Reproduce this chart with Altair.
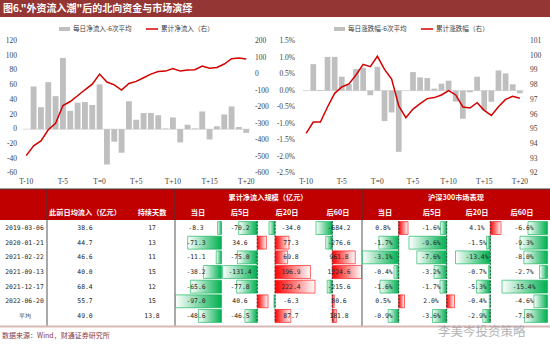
import altair as alt
import pandas as pd

# ---------------- data ----------------
periods = ["T-10", "T-9", "T-8", "T-7", "T-6", "T-5", "T-4", "T-3", "T-2", "T-1", "T=0",
           "T+1", "T+2", "T+3", "T+4", "T+5", "T+6", "T+7", "T+8", "T+9", "T+10",
           "T+11", "T+12", "T+13", "T+14", "T+15", "T+16", "T+17", "T+18", "T+19", "T+20"]
flow_daily = [0, 58, 30, 64, 45, 97, 25, 36, 37, 33, 61,
              -48, -17, -32, 38, 13, 22, 22, 19, 1, 16,
              -18, 6, 1, 24, -14, 4, 20, 31, 3, -5]
flow_cum = [-493, -434, -404, -337, -297, -190, -166, -131, -95, -61, 0,
            -48, -65, -97, -57, -44, -22, 0, 16, 18, 34,
            18, 24, 26, 48, 36, 40, 61, 93, 97, 91]
ret_daily = [0, 0.80, 0.02, 1.02, 1.02, 0.42, 0.20, 0.65, 0.69, -0.14, 0.72,
             -0.92, -0.66, -1.85, 0.0, 0.56, 0.40, 0.38, 0.06, 0.21, 0.30,
             -0.33, -0.85, -0.05, 0.42, -0.60, -0.34, 0.61, 0.52, 0.19, -0.08]
ret_cum = [94.72, 95.49, 95.49, 96.51, 97.44, 97.87, 98.08, 98.69, 99.41, 99.25, 99.96,
           99.07, 98.41, 96.58, 95.78, 96.37, 96.74, 97.08, 97.15, 97.33, 97.62,
           97.33, 96.51, 96.44, 96.80, 96.28, 95.94, 96.53, 97.03, 97.24, 97.10]

x_tick_labels = ["T-10", "T-5", "T=0", "T+5", "T+10", "T+15", "T+20"]
flow_ticks = [120, 100, 80, 60, 40, 20, 0, -20, -40, -60]
flow_cum_ticks = [200, 100, 0, -100, -200, -300, -400, -500, -600]
ret_ticks = [1.5, 1.0, 0.5, 0.0, -0.5, -1.0, -1.5, -2.0, -2.5]
index_ticks = [101, 100, 99, 98, 97, 96, 95, 94, 93, 92]

title_text = '图6."外资流入潮"后的北向资金与市场演绎'
legend_flow = ["每日净流入-6次平均", "累计净流入（右）"]
legend_ret = ["每日涨跌幅-6次平均", "累计涨跌幅（右）"]

dates = ["2019-03-06", "2020-01-21", "2021-02-22", "2021-09-13", "2021-12-17", "2022-06-20", "平均"]
prev_inflow = [38.6, 44.7, 46.6, 40.0, 68.4, 55.7, 49.0]
days = [17, 13, 11, 15, 12, 15, 13.8]
cum_t0 = [-8.3, -71.3, -11.1, -38.2, -65.6, -97.0, -48.6]
cum_t5 = [-70.2, 34.6, -75.0, -131.4, -77.8, 40.6, -46.5]
cum_t20 = [-34.0, 77.3, 69.8, 196.9, 222.4, -6.3, 87.7]
cum_t60 = [-684.2, -276.6, 961.8, 1224.6, -215.6, 80.6, 181.8]
hs_t0 = [0.8, -1.7, -3.1, -0.4, -1.6, 0.5, -0.9]
hs_t5 = [-1.6, -9.6, -7.6, -3.2, -1.7, 2.0, -3.6]
hs_t20 = [4.1, -1.5, -13.4, -0.7, -5.3, -0.4, -2.9]
hs_t60 = [-6.6, -9.3, -8.0, -2.7, -15.4, -4.6, -7.8]

group_headers = ["累计净流入规模（亿元）", "沪深300市场表现"]
sub_headers = ["此前日均流入（亿元）", "持续天数"]
period_headers = ["当日", "后5日", "后20日", "后60日"]
source_text = "数据来源：Wind，财通证券研究所"
watermark = "李美岑投资策略"

# ---------------- style ----------------
CJK = "Noto Sans CJK SC"
SERIF = "Liberation Serif"
MONO = "DejaVu Sans Mono"
RED = "#D40000"
BARGRAY = "#BFBFBF"
HEAD = "#C00000"
TITLEBG = "#943634"
GREEN = "#00B050"
DBRED = "#FF0000"

one = pd.DataFrame({"k": [0]})
layers = []


def box(x1, x2, y1, y2, color):
    return alt.Chart(one).mark_rect(color=color).encode(
        x=alt.value(x1), x2=alt.value(x2), y=alt.value(y1), y2=alt.value(y2))


def hline(x1, x2, y, color, w):
    return alt.Chart(one).mark_rule(color=color, strokeWidth=w).encode(
        x=alt.value(x1), x2=alt.value(x2), y=alt.value(y))


def vline(x, y1, y2, color, w):
    return alt.Chart(one).mark_rule(color=color, strokeWidth=w).encode(
        x=alt.value(x), y=alt.value(y1), y2=alt.value(y2))


def label(x, y, text, size, color, font=CJK, align="center", weight="normal", opacity=1.0):
    return alt.Chart(one).mark_text(
        text=text, fontSize=size, color=color, font=font, align=align,
        baseline="middle", fontWeight=weight, opacity=opacity).encode(
        x=alt.value(x), y=alt.value(y))


# ---------------- title band ----------------
layers.append(box(0, 550, 0, 17, TITLEBG))
layers.append(label(3, 8.8, title_text, 10, "white", align="left", weight="bold"))


# ---------------- two dual-axis panels ----------------
def panel(daily, cum, xr, yl_dom, yr_dom, lticks, lfmt, rticks, rfmt, lx, rx, legend_texts, leg_x0):
    out = []
    df = pd.DataFrame({"p": periods, "i": list(range(len(periods))), "daily": daily, "cum": cum})
    xs = alt.Scale(domain=periods, range=xr, paddingInner=0.2, paddingOuter=0.1)
    ysl = alt.Scale(domain=yl_dom, range=[173.3, 41], nice=False, zero=False)
    ysr = alt.Scale(domain=yr_dom, range=[173.3, 41], nice=False, zero=False)
    X = alt.X("p:N", scale=xs, axis=None)
    # baseline at zero
    out.append(alt.Chart(pd.DataFrame({"z": [0]})).mark_rule(color="#D0D0D0", strokeWidth=0.8).encode(
        y=alt.Y("z:Q", scale=ysl, axis=None), x=alt.value(xr[0]), x2=alt.value(xr[1])))
    out.append(alt.Chart(df).mark_bar(color=BARGRAY).encode(
        x=X, y=alt.Y("daily:Q", scale=ysl, axis=None), y2=alt.datum(0)))
    out.append(alt.Chart(df).mark_line(color=RED, strokeWidth=1.5).encode(
        x=X, y=alt.Y("cum:Q", scale=ysr, axis=None), order="i:Q"))
    dl = pd.DataFrame({"v": lticks, "t": [lfmt(v) for v in lticks]})
    out.append(alt.Chart(dl).mark_text(font=SERIF, fontSize=7.5, color="#404040", align="right",
                                       baseline="middle").encode(
        y=alt.Y("v:Q", scale=ysl, axis=None), x=alt.value(lx), text="t:N"))
    dr = pd.DataFrame({"v": rticks, "t": [rfmt(v) for v in rticks]})
    out.append(alt.Chart(dr).mark_text(font=SERIF, fontSize=7.5, color="#404040", align="left",
                                       baseline="middle").encode(
        y=alt.Y("v:Q", scale=ysr, axis=None), x=alt.value(rx), text="t:N"))
    dx = pd.DataFrame({"p": x_tick_labels})
    out.append(alt.Chart(dx).mark_text(font=SERIF, fontSize=7.5, color="#404040",
                                       baseline="middle").encode(
        x=X, y=alt.value(181.5), text="p:N"))
    # legend
    out.append(box(leg_x0, leg_x0 + 11, 27, 31, BARGRAY))
    out.append(label(leg_x0 + 14, 29, legend_texts[0], 6.6, "#404040", align="left"))
    out.append(hline(leg_x0 + 87, leg_x0 + 99, 29, RED, 1.5))
    out.append(label(leg_x0 + 102, 29, legend_texts[1], 6.6, "#404040", align="left"))
    return out


layers += panel(flow_daily, flow_cum, [22.6, 249.9], [-60, 120], [-600, 200],
                flow_ticks, lambda v: f"{v:d}", flow_cum_ticks, lambda v: f"{v:d}",
                17, 255, legend_flow, 59)
layers += panel(ret_daily, ret_cum, [302.6, 523.4], [-2.5, 1.5], [92, 101],
                ret_ticks, lambda v: f"{v:.1f}%", index_ticks, lambda v: f"{v:d}",
                295, 530, legend_ret, 334)

# ---------------- table ----------------
row_scale = alt.Scale(domain=dates, range=[220.7, 323.3], paddingInner=0.12, paddingOuter=0.06)

layers.append(box(0, 550, 189, 220, HEAD))
layers.append(hline(0, 550, 189, "#404040", 1))
for xs_ in (47, 175, 362):
    layers.append(vline(xs_, 189, 220, "#3A3A3A", 1))
    layers.append(vline(xs_, 220, 326, "#8C8C8C", 1.5))
layers.append(hline(0, 550, 326.5, "#D9B8B8", 2))

layers.append(label(268, 198, group_headers[0], 7.2, "white", weight="bold"))
layers.append(label(456, 198, group_headers[1], 7.2, "white", weight="bold"))
layers.append(label(85, 213, sub_headers[0], 7.2, "white", weight="bold"))
layers.append(label(152, 213, sub_headers[1], 7.2, "white", weight="bold"))
for cx, h in zip([198, 240, 287, 338], period_headers):
    layers.append(label(cx, 213, h, 7.2, "white", weight="bold"))
for cx, h in zip([385, 432, 477, 522], period_headers):
    layers.append(label(cx, 213, h, 7.2, "white", weight="bold"))

green_grad = alt.LinearGradient(gradient="linear", x1=0, x2=1, y1=0, y2=0,
                                stops=[alt.GradientStop(color="#FFFFFF", offset=0),
                                       alt.GradientStop(color=GREEN, offset=1)])
red_grad = alt.LinearGradient(gradient="linear", x1=0, x2=1, y1=0, y2=0,
                              stops=[alt.GradientStop(color=DBRED, offset=0),
                                     alt.GradientStop(color="#FFFFFF", offset=1)])

num_cols = [
    (cum_t0, 175, 222, 196, lambda v: f"{v:.1f}"),
    (cum_t5, 222, 268.5, 240, lambda v: f"{v:.1f}"),
    (cum_t20, 268.5, 315.5, 291, lambda v: f"{v:.1f}"),
    (cum_t60, 315.5, 362, 339, lambda v: f"{v:.1f}"),
    (hs_t0, 362, 408.5, 383, lambda v: f"{v:.1f}%"),
    (hs_t5, 408.5, 455, 431, lambda v: f"{v:.1f}%"),
    (hs_t20, 455, 501.5, 477, lambda v: f"{v:.1f}%"),
    (hs_t60, 501.5, 548, 524, lambda v: f"{v:.1f}%"),
]

Y = alt.Y("row:N", scale=row_scale, axis=None)
text_layers = []
for vals, x0, x1, cx, fmt in num_cols:
    lo, hi = min(min(vals), 0), max(max(vals), 0)
    sx = alt.Scale(domain=[lo, hi], range=[x0 + 0.5, x1 - 0.5], nice=False, zero=False)
    df = pd.DataFrame({"row": dates, "v": vals, "t": [fmt(v) for v in vals]})
    layers.append(alt.Chart(df).transform_filter("datum.v < 0").mark_bar(
        fill=green_grad, stroke=GREEN, strokeWidth=0.6).encode(
        x=alt.X("v:Q", scale=sx, axis=None), x2=alt.datum(0), y=Y))
    layers.append(alt.Chart(df).transform_filter("datum.v > 0").mark_bar(
        fill=red_grad, stroke=DBRED, strokeWidth=0.6).encode(
        x=alt.X("v:Q", scale=sx, axis=None), x2=alt.datum(0), y=Y))
    if lo < 0 < hi:
        layers.append(alt.Chart(pd.DataFrame({"z": [0]})).mark_rule(
            color="#333333", strokeWidth=0.8, strokeDash=[2, 1.5]).encode(
            x=alt.X("z:Q", scale=sx, axis=None), y=alt.value(221), y2=alt.value(323)))
    text_layers.append(alt.Chart(df).mark_text(font=MONO, fontSize=6.4, color="#262626",
                                               baseline="middle").encode(
        x=alt.value(cx), y=Y, text="t:N"))

df_first = pd.DataFrame({"row": dates,
                         "a": [f"{v:.1f}" for v in prev_inflow],
                         "d": [f"{v:g}" for v in days]})
text_layers.append(alt.Chart(df_first).mark_text(font=MONO, fontSize=6.4, color="#262626",
                                                 baseline="middle").encode(
    x=alt.value(24.5), y=Y, text="row:N"))
text_layers.append(alt.Chart(df_first).mark_text(font=MONO, fontSize=6.4, color="#262626",
                                                 baseline="middle").encode(
    x=alt.value(85), y=Y, text="a:N"))
text_layers.append(alt.Chart(df_first).mark_text(font=MONO, fontSize=6.4, color="#262626",
                                                 baseline="middle").encode(
    x=alt.value(152), y=Y, text="d:N"))
layers += text_layers

# ---------------- footer ----------------
layers.append(label(2, 336, source_text, 7, "#8B3A3A", align="left"))
layers.append(label(438, 331.5, watermark, 12.5, "#9A9A9A", align="left", opacity=0.75))

chart = alt.layer(*layers).resolve_scale(x="independent", y="independent").properties(
    width=550, height=353, padding=0,
    autosize=alt.AutoSizeParams(type="none"),
    background="white",
).configure_view(stroke=None)

chart.save("out.html", embed_options={"renderer": "svg", "actions": False})
